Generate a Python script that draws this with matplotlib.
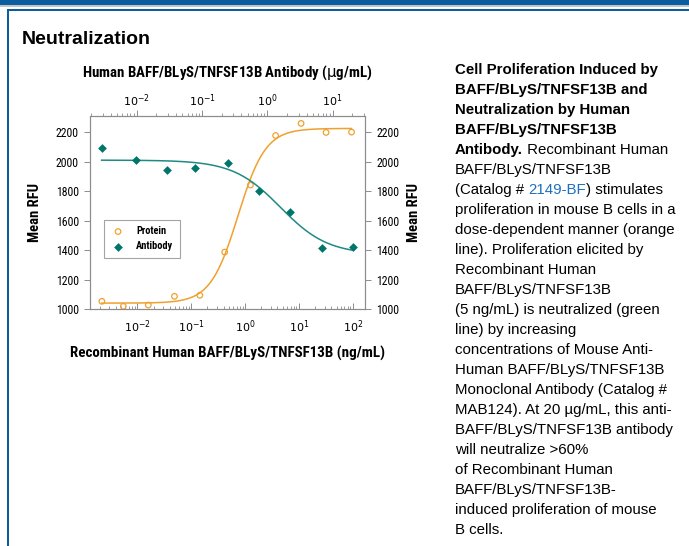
import numpy as np
import matplotlib
matplotlib.use("Agg")
import matplotlib.pyplot as plt
from matplotlib.patches import Rectangle
from matplotlib.ticker import LogLocator, NullFormatter, FixedLocator

# ==========================================
# data
# ==========================================
protein_ng = [0.0022, 0.0055, 0.016, 0.049, 0.145, 0.42, 1.26, 3.7, 11.0, 32.0, 95.0]
protein_rfu = [1052, 1018, 1027, 1086, 1093, 1386, 1841, 2177, 2259, 2198, 2200]

antibody_ug = [0.0029, 0.0098, 0.0295, 0.079, 0.25, 0.74, 2.24, 6.8, 20.4]
antibody_rfu = [2092, 2012, 1945, 1958, 1988, 1802, 1658, 1414, 1418]

# 4PL fit parameters: bottom, top, log10 EC50, hill (negative = falling)
protein_fit = (1040, 2225, -0.13, 1.7)
antibody_fit = (1370, 2010, 0.20, -1.2)

yticks = [1000, 1200, 1400, 1600, 1800, 2000, 2200]
bottom_ticks = [1e-2, 1e-1, 1e0, 1e1, 1e2]
bottom_labels = ['$10^{-2}$', '$10^{-1}$', '$10^{0}$', '$10^{1}$', '$10^{2}$']
top_ticks = [1e-2, 1e-1, 1e0, 1e1]
top_labels = ['$10^{-2}$', '$10^{-1}$', '$10^{0}$', '$10^{1}$']

ORANGE = '#EFA12F'
TEAL_LINE = '#1F8A84'
TEAL_MARK = '#00756A'
BLUE = '#0A5EA0'
GRAY = '#8C8C8C'

COND = ['Liberation Sans Narrow', 'Roboto Condensed', 'DejaVu Sans']
SANS = ['Liberation Sans', 'DejaVu Sans']

plt.rcParams['font.family'] = COND
plt.rcParams['mathtext.fontset'] = 'custom'
plt.rcParams['mathtext.rm'] = 'Liberation Sans Narrow'
plt.rcParams['mathtext.it'] = 'Liberation Sans Narrow'


def four_pl(logx, bottom, top, logc, hill):
    return bottom + (top - bottom) / (1 + 10 ** (hill * (logc - logx)))


W, H = 689, 546
fig = plt.figure(figsize=(W / 100, H / 100), dpi=100)

# page frame
fig.add_artist(Rectangle((0, 1 - 5 / H), 1, 5 / H, transform=fig.transFigure,
                         color=BLUE, lw=0))
fig.add_artist(Rectangle((0, 1 - 7 / H), 1, 2 / H, transform=fig.transFigure,
                         color='#C4C4C4', lw=0))
fig.add_artist(Rectangle((7 / W, 1 - 11 / H), 1, 2 / H, transform=fig.transFigure,
                         color=BLUE, lw=0))
fig.add_artist(Rectangle((7 / W, 0), 2 / W, 1 - 9 / H, transform=fig.transFigure,
                         color=BLUE, lw=0))

fig.text(22 / W, 1 - 40 / H, 'Neutralization', family=SANS, weight='bold',
         fontsize=14, va='center', ha='left')

# ==========================================
# chart
# ==========================================
ax = fig.add_axes([90 / W, 1 - 309 / H, 275 / W, 192.5 / H])
ax.set_xscale('log')
ax.set_xlim(10 ** -2.878, 10 ** 2.228)
ax.set_ylim(1000, 2306)

# protein
lp = np.log10(protein_ng)
xs = np.linspace(lp.min(), lp.max(), 300)
ax.plot(10 ** xs, four_pl(xs, *protein_fit), color=ORANGE, lw=1.1, zorder=2)
ax.scatter(protein_ng, protein_rfu, s=16, facecolors='none', edgecolors=ORANGE,
           linewidths=0.9, zorder=3, label='Protein')

ax.set_yticks(yticks)
ax.set_yticklabels([str(v) for v in yticks])
ax.xaxis.set_major_locator(FixedLocator(bottom_ticks))
ax.set_xticklabels(bottom_labels)
ax.xaxis.set_minor_locator(LogLocator(base=10, subs=np.arange(2, 10), numticks=20))
ax.xaxis.set_minor_formatter(NullFormatter())
ax.tick_params(axis='x', which='major', direction='in', length=4, width=0.7,
               color=GRAY, labelsize=8, pad=7)
ax.tick_params(axis='x', which='minor', direction='in', length=2, width=0.6, color=GRAY)
ax.tick_params(axis='y', which='major', direction='out', length=4, width=0.7,
               color=GRAY, labelsize=8.5, pad=4, left=True, right=True,
               labelleft=True, labelright=True)
for s in ax.spines.values():
    s.set_color(GRAY)
    s.set_linewidth(0.8)

ax.set_xlabel('Recombinant Human BAFF/BLyS/TNFSF13B (ng/mL)', fontsize=10.8,
              weight='bold', labelpad=8)
ax.set_ylabel('Mean RFU', fontsize=10.5, weight='bold', labelpad=10)
fig.text(414 / W, 1 - 213 / H, 'Mean RFU', fontsize=10.5, weight='bold',
         rotation=90, ha='center', va='center')

# antibody on the top axis
ax2 = ax.twiny()
ax2.set_xscale('log')
ax2.set_xlim(10 ** -2.715, 10 ** 1.495)
la = np.log10(antibody_ug)
xa = np.linspace(la.min(), la.max(), 300)
ax2.plot(10 ** xa, four_pl(xa, *antibody_fit), color=TEAL_LINE, lw=1.1, zorder=2)
ax2.scatter(antibody_ug, antibody_rfu, s=20, marker='D', color=TEAL_MARK,
            linewidths=0, zorder=3, label='Antibody')
ax2.xaxis.set_major_locator(FixedLocator(top_ticks))
ax2.set_xticklabels(top_labels)
ax2.xaxis.set_minor_locator(LogLocator(base=10, subs=np.arange(2, 10), numticks=20))
ax2.xaxis.set_minor_formatter(NullFormatter())
ax2.tick_params(axis='x', which='major', direction='out', length=4, width=0.7,
                color=GRAY, labelsize=8, pad=1.5)
ax2.tick_params(axis='x', which='minor', direction='out', length=2, width=0.6, color=GRAY)
for s in ax2.spines.values():
    s.set_color(GRAY)
    s.set_linewidth(0.8)
ax2.set_xlabel('Human BAFF/BLyS/TNFSF13B Antibody ($\\mu$g/mL)', fontsize=10.7,
               weight='bold', labelpad=11)

h1, l1 = ax.get_legend_handles_labels()
h2, l2 = ax2.get_legend_handles_labels()
leg = ax2.legend(h1 + h2, l1 + l2, loc='upper left',
                 bbox_to_anchor=((104 - 90) / 275, (309 - 220) / 192.5),
                 frameon=True, fancybox=False, edgecolor=GRAY,
                 prop={'weight': 'bold', 'size': 7.5}, handletextpad=1.0,
                 borderpad=0.6, labelspacing=0.5, handlelength=1.5, borderaxespad=0)
leg.get_frame().set_linewidth(0.8)

# ==========================================
# caption on the right
# ==========================================
caption = [
    [("Cell Proliferation Induced by", 'bold', 'black')],
    [("BAFF/BLyS/TNFSF13B and", 'bold', 'black')],
    [("Neutralization by Human", 'bold', 'black')],
    [("BAFF/BLyS/TNFSF13B", 'bold', 'black')],
    [("Antibody.", 'bold', 'black'), (" Recombinant Human", 'normal', 'black')],
    [("BAFF/BLyS/TNFSF13B", 'normal', 'black')],
    [("(Catalog # ", 'normal', 'black'), ("2149-BF", 'normal', '#1F6FC0'),
     (") stimulates", 'normal', 'black')],
    [("proliferation in mouse B cells in a", 'normal', 'black')],
    [("dose-dependent manner (orange", 'normal', 'black')],
    [("line). Proliferation elicited by", 'normal', 'black')],
    [("Recombinant Human", 'normal', 'black')],
    [("BAFF/BLyS/TNFSF13B", 'normal', 'black')],
    [("(5 ng/mL) is neutralized (green", 'normal', 'black')],
    [("line) by increasing", 'normal', 'black')],
    [("concentrations of Mouse Anti-", 'normal', 'black')],
    [("Human BAFF/BLyS/TNFSF13B", 'normal', 'black')],
    [("Monoclonal Antibody (Catalog #", 'normal', 'black')],
    [("MAB124). At 20 \u00b5g/mL, this anti-", 'normal', 'black')],
    [("BAFF/BLyS/TNFSF13B antibody", 'normal', 'black')],
    [("will neutralize >60%", 'normal', 'black')],
    [("of Recombinant Human", 'normal', 'black')],
    [("BAFF/BLyS/TNFSF13B-", 'normal', 'black')],
    [("induced proliferation of mouse", 'normal', 'black')],
    [("B cells.", 'normal', 'black')],
]

renderer = fig.canvas.get_renderer()
y0, step = 70, 20.0
for i, segs in enumerate(caption):
    x = 455 / W
    y = 1 - (y0 + i * step) / H
    for txt, wt, col in segs:
        t = fig.text(x, y, txt, family=SANS, weight=wt, color=col, fontsize=10.8,
                     ha='left', va='center')
        bb = t.get_window_extent(renderer)
        x = bb.x1 / W

fig.savefig('out.png', dpi=100)
